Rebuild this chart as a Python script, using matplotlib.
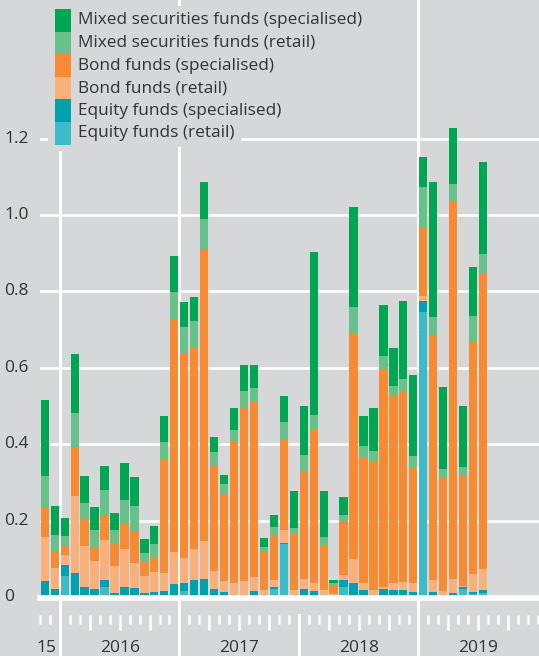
import matplotlib
matplotlib.use('Agg')
import matplotlib.pyplot as plt
from matplotlib.patches import Rectangle
from matplotlib.transforms import blended_transform_factory
import numpy as np

plt.rcParams['font.family'] = ['Open Sans', 'DejaVu Sans']

# monthly data, Nov 2015 .. Jul 2019
months = ['2015-11', '2015-12',
          '2016-01', '2016-02', '2016-03', '2016-04', '2016-05', '2016-06',
          '2016-07', '2016-08', '2016-09', '2016-10', '2016-11', '2016-12',
          '2017-01', '2017-02', '2017-03', '2017-04', '2017-05', '2017-06',
          '2017-07', '2017-08', '2017-09', '2017-10', '2017-11', '2017-12',
          '2018-01', '2018-02', '2018-03', '2018-04', '2018-05', '2018-06',
          '2018-07', '2018-08', '2018-09', '2018-10', '2018-11', '2018-12',
          '2019-01', '2019-02', '2019-03', '2019-04', '2019-05', '2019-06',
          '2019-07']

equity_retail = [0.005, 0.002, 0.055, 0.003, 0.002, 0.002, 0.027, 0.002, 0.002, 0.002,
                 0.001, 0.002, 0.002, 0.003, 0.017, 0.003, 0.002, 0.002, 0.001, 0.001,
                 0.001, 0.001, 0.000, 0.022, 0.138, 0.000, 0.003, 0.001, 0.000, 0.002,
                 0.027, 0.001, 0.001, 0.000, 0.001, 0.001, 0.001, 0.001, 0.747, 0.003,
                 0.000, 0.001, 0.021, 0.008, 0.011]
equity_spec = [0.038, 0.018, 0.029, 0.061, 0.025, 0.019, 0.018, 0.009, 0.025, 0.022,
               0.010, 0.011, 0.015, 0.030, 0.020, 0.042, 0.044, 0.019, 0.011, 0.002,
               0.001, 0.015, 0.001, 0.003, 0.003, 0.001, 0.018, 0.016, 0.001, 0.000,
               0.017, 0.036, 0.017, 0.001, 0.021, 0.017, 0.017, 0.013, 0.028, 0.010,
               0.002, 0.010, 0.006, 0.006, 0.007]
bond_retail = [0.113, 0.055, 0.026, 0.201, 0.107, 0.074, 0.105, 0.070, 0.099, 0.066,
               0.044, 0.052, 0.045, 0.085, 0.066, 0.081, 0.101, 0.047, 0.030, 0.034,
               0.041, 0.036, 0.017, 0.020, 0.035, 0.017, 0.026, 0.020, 0.017, 0.006,
               0.014, 0.063, 0.018, 0.017, 0.003, 0.019, 0.021, 0.023, 0.014, 0.032,
               0.014, 0.036, 0.003, 0.045, 0.056]
bond_spec = [0.079, 0.046, 0.024, 0.125, 0.070, 0.035, 0.064, 0.061, 0.068, 0.080,
             0.037, 0.041, 0.298, 0.610, 0.532, 0.528, 0.761, 0.276, 0.228, 0.372,
             0.455, 0.459, 0.101, 0.118, 0.235, 0.149, 0.284, 0.403, 0.118, 0.023,
             0.138, 0.590, 0.330, 0.339, 0.572, 0.491, 0.499, 0.304, 0.179, 0.641,
             0.299, 0.990, 0.287, 0.611, 0.772]
mixed_retail = [0.082, 0.041, 0.026, 0.092, 0.042, 0.045, 0.066, 0.033, 0.060, 0.068,
                0.024, 0.033, 0.045, 0.070, 0.071, 0.069, 0.082, 0.035, 0.026, 0.027,
                0.042, 0.035, 0.013, 0.021, 0.046, 0.014, 0.041, 0.037, 0.021, 0.006,
                0.019, 0.070, 0.029, 0.025, 0.035, 0.024, 0.033, 0.027, 0.105, 0.048,
                0.020, 0.044, 0.024, 0.066, 0.052]
mixed_spec = [0.199, 0.076, 0.047, 0.154, 0.071, 0.060, 0.064, 0.045, 0.098, 0.075,
              0.037, 0.048, 0.070, 0.094, 0.065, 0.062, 0.096, 0.039, 0.024, 0.059,
              0.068, 0.062, 0.022, 0.030, 0.070, 0.097, 0.129, 0.427, 0.120, 0.008,
              0.046, 0.260, 0.080, 0.112, 0.132, 0.099, 0.204, 0.214, 0.080, 0.352,
              0.216, 0.148, 0.160, 0.127, 0.241]

series = [equity_retail, equity_spec, bond_retail, bond_spec, mixed_retail, mixed_spec]
labels = ['Equity funds (retail)', 'Equity funds (specialised)',
          'Bond funds (retail)', 'Bond funds (specialised)',
          'Mixed securities funds (retail)', 'Mixed securities funds (specialised)']
colors = ['#3cbcc8', '#00a0b0', '#fab07a', '#f68b33', '#66c18a', '#00a651']

yticks = [0, 0.2, 0.4, 0.6, 0.8, 1.0, 1.2]
ytick_labels = ['0', '0.2', '0.4', '0.6', '0.8', '1.0', '1.2']
year_labels = ['15', '2016', '2017', '2018', '2019']
year_pos = [0.6, 8, 20, 32, 44]

bg = '#d6d7d9'
txt = '#333333'
W, H = 539, 656


def fx(px):
    return px / W


def fy(py):
    return 1 - py / H


fig = plt.figure(figsize=(W / 100, H / 100), dpi=100, facecolor=bg)
ax = fig.add_axes([fx(40), fy(597), 1 - fx(40), 597 / H])
ax.set_facecolor(bg)
ax.set_xlim(0, 50.1)
ax.set_ylim(0, 597 / 382)
for s in ax.spines.values():
    s.set_visible(False)
ax.set_xticks([])
ax.set_yticks([])

# grid
for v in yticks[1:]:
    ax.axhline(v, color='white', lw=1.8, zorder=0.5)
ax.axhline(-0.002, color='white', lw=4, zorder=4, clip_on=False)

# stacked bars
x = np.arange(len(months)) + 0.48
bottom = np.zeros(len(months))
for vals, col in zip(series, colors):
    ax.bar(x, vals, 0.83, bottom=bottom, color=col, linewidth=0, zorder=2)
    bottom += np.array(vals)

# year separators and month ticks below the axis
for m in [2, 14, 38]:
    ax.plot([m, m], [-0.17, 1.7], color='white', lw=2.2, clip_on=False, zorder=1)
ax.plot([26, 26], [-0.047, -0.17], color='white', lw=2.2, clip_on=False, zorder=1)
for k in range(51):
    if k in (2, 14, 26, 38):
        continue
    long_tick = (k - 2) % 3 == 0 and k != 50
    ax.plot([k, k], [-0.047, -0.086 if long_tick else -0.071], color='white',
            lw=1.8, clip_on=False, solid_capstyle='butt')

for p, lab in zip(year_pos, year_labels):
    ax.text(p, -0.134, lab, ha='center', va='center', fontsize=12.5, color=txt)

trans = blended_transform_factory(fig.transFigure, ax.transData)
for v, lab in zip(yticks, ytick_labels):
    ax.text(fx(4), v, lab, transform=trans, ha='left', va='center',
            fontsize=12.5, color=txt)

# legend
fig.add_artist(Rectangle((fx(48), fy(151)), fx(30), 151 / H, transform=fig.transFigure,
                         facecolor=bg, edgecolor='none', zorder=5))
row = 22.6
for i, (lab, col) in enumerate(zip(labels[::-1], colors[::-1])):
    top = 9 + row * i
    fig.add_artist(Rectangle((fx(55), fy(top + row)), fx(16), row / H,
                             transform=fig.transFigure, facecolor=col,
                             edgecolor='none', zorder=6))
    fig.text(fx(78), fy(top + row / 2), lab, ha='left', va='center', fontsize=12.4,
             color=txt, zorder=7,
             bbox=dict(facecolor=bg, edgecolor='none', boxstyle='square,pad=0.35'))

fig.savefig('out.png', dpi=100, facecolor=bg)
